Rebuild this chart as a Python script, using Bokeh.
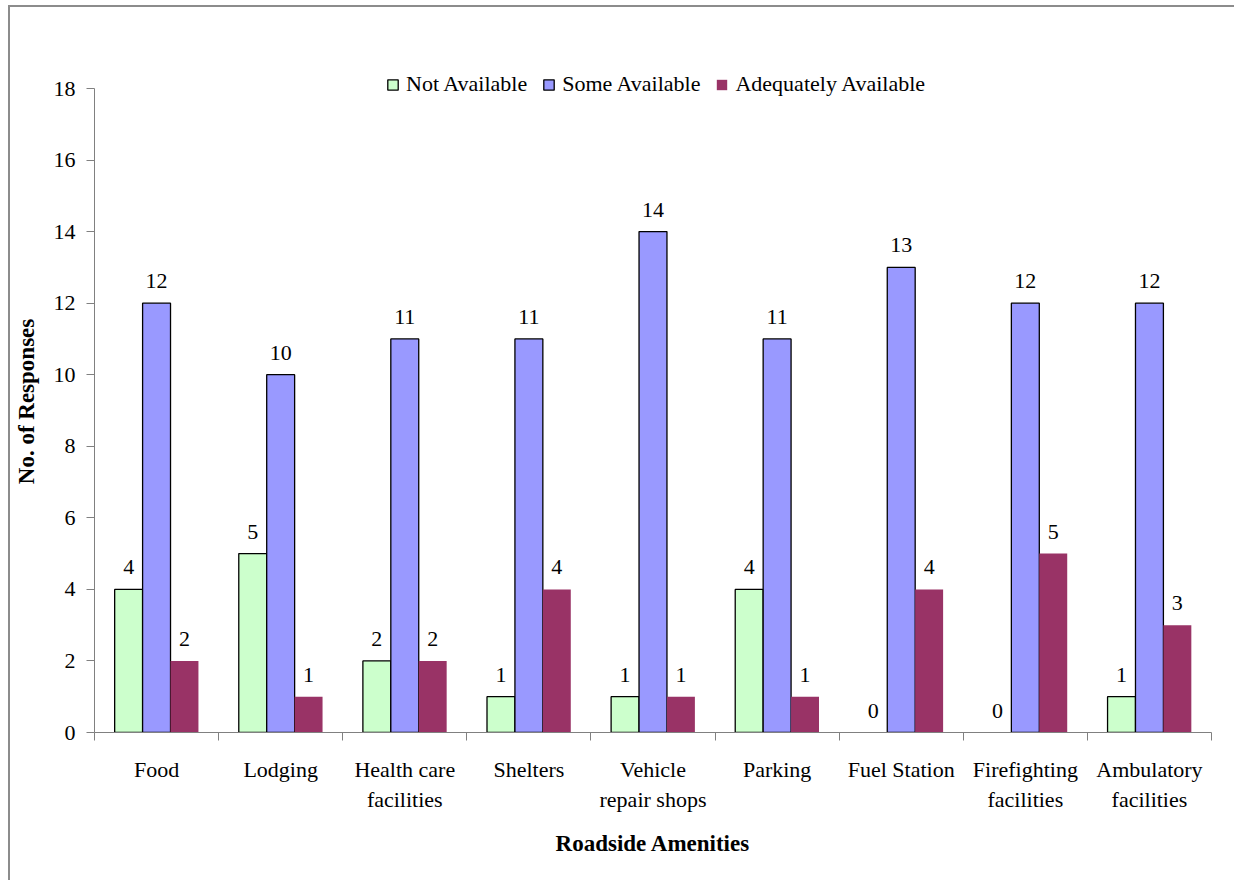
import numpy as np
from bokeh.plotting import figure
from bokeh.models import ColumnDataSource, FixedTicker, Legend, LegendItem, Range1d
from bokeh.core.properties import value
from bokeh.embed import file_html
from bokeh.resources import INLINE

# Survey results: roadside amenities and their availability
categories = ["Food", "Lodging", "Health care\nfacilities", "Shelters",
              "Vehicle\nrepair shops", "Parking", "Fuel Station",
              "Firefighting\nfacilities", "Ambulatory\nfacilities"]
not_available = [4, 5, 2, 1, 1, 4, 0, 0, 1]
some_available = [12, 10, 11, 11, 14, 11, 13, 12, 12]
adequately_available = [2, 1, 2, 4, 1, 1, 4, 5, 3]
series_names = ["Not Available", "Some Available", "Adequately Available"]
y_ticks = list(range(0, 19, 2))

FONT = "Liberation Serif"
COLORS = ["#CCFFCC", "#9999FF", "#993366"]
BAR_W = 0.225
OFFSETS = [-BAR_W, 0.0, BAR_W]

# plot frame geometry (pixels): axis spans 644 px, with 18 px of headroom
# above the top tick so the legend can sit there
AXIS_PX = 644
HEADROOM_PX = 18
y_max = max(y_ticks)
y_end = y_max * (AXIS_PX + HEADROOM_PX) / AXIS_PX

centers = np.arange(len(categories)) + 0.5

p = figure(width=1226, height=875,
           x_range=Range1d(0, len(categories)), y_range=Range1d(0, y_end),
           output_backend="svg", toolbar_location=None,
           min_border_left=82, min_border_top=63,
           min_border_right=25, min_border_bottom=150)
p.margin = (5, 0, 0, 8)
p.styles = {"border-left": "2px solid #8c8c8c", "border-top": "2px solid #8c8c8c"}
p.xgrid.visible = False
p.ygrid.visible = False
p.outline_line_color = None
p.background_fill_color = "white"
p.border_fill_color = "white"

renderers = []
for vals, off, color, has_edge in zip(
        [not_available, some_available, adequately_available],
        OFFSETS, COLORS, [True, True, False]):
    src = ColumnDataSource(dict(
        x=centers + off,
        top=vals,
        label=[str(v) for v in vals],
        edge=[1.0 if (has_edge and v > 0) else 0.0 for v in vals],
    ))
    r = p.vbar(x="x", top="top", bottom=0, width=BAR_W, source=src,
               fill_color=color, line_color="black", line_width=1.3,
               line_alpha="edge")
    renderers.append(r)
    p.text(x="x", y="top", text="label", source=src,
           text_align="center", text_baseline="alphabetic", y_offset=-22,
           text_font=value(FONT), text_font_size="22px", text_color="black")

legend = Legend(items=[LegendItem(label=n, renderers=[r])
                       for n, r in zip(series_names, renderers)],
                orientation="horizontal", location=(292, 635),
                glyph_width=13, glyph_height=13, label_standoff=7, spacing=15,
                padding=0, margin=0, label_height=20,
                label_text_font=FONT, label_text_font_size="22px",
                label_text_color="black",
                border_line_color=None, background_fill_alpha=0)
p.add_layout(legend)

# x axis: tick marks between groups, labels under group centres
xa = p.xaxis[0]
xa.ticker = FixedTicker(ticks=list(centers), minor_ticks=list(range(len(categories) + 1)))
xa.major_label_overrides = {float(c): lab for c, lab in zip(centers, categories)}
xa.major_tick_out = 0
xa.major_tick_in = 0
xa.minor_tick_out = 8
xa.minor_tick_in = 0
xa.minor_tick_line_color = "#808080"
xa.axis_line_color = "#808080"
xa.major_label_text_font = FONT
xa.major_label_text_font_size = "22px"
xa.major_label_text_color = "black"
xa.major_label_standoff = 16
xa.axis_label = "Roadside Amenities"
xa.axis_label_text_font = FONT
xa.axis_label_text_font_size = "23px"
xa.axis_label_text_font_style = "bold"
xa.axis_label_text_color = "black"
xa.axis_label_standoff = 16

ya = p.yaxis[0]
ya.ticker = FixedTicker(ticks=y_ticks, minor_ticks=[])
ya.bounds = (0, y_max)
ya.major_tick_out = 8
ya.major_tick_in = 0
ya.major_tick_line_color = "#808080"
ya.axis_line_color = "#808080"
ya.major_label_text_font = FONT
ya.major_label_text_font_size = "22px"
ya.major_label_text_color = "black"
ya.major_label_standoff = 11
ya.axis_label = "No. of Responses"
ya.axis_label_text_font = FONT
ya.axis_label_text_font_size = "23px"
ya.axis_label_text_font_style = "bold"
ya.axis_label_text_color = "black"
ya.axis_label_standoff = 12

open("out.html", "w").write(file_html(p, INLINE))
